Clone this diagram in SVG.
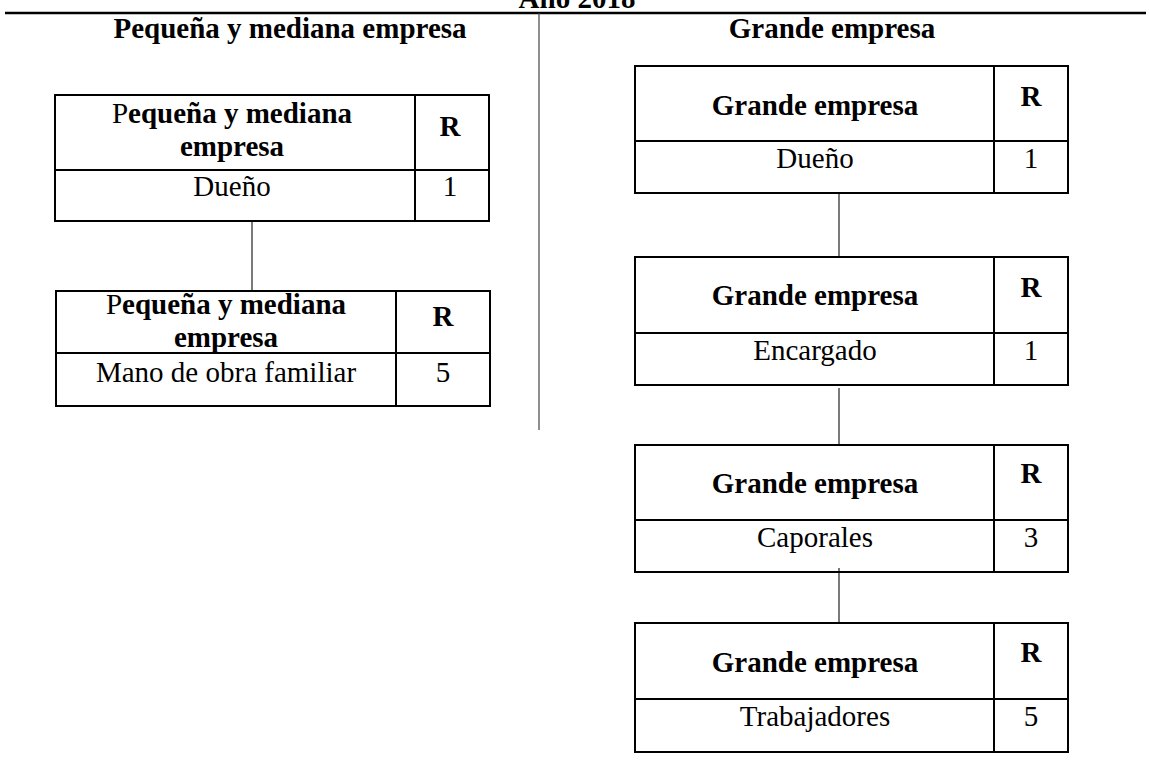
<svg xmlns="http://www.w3.org/2000/svg" width="1149" height="775" viewBox="0 0 1149 775">
<style>
text{font-family:"Liberation Serif","Times New Roman",serif;fill:#000}
.b{font-weight:bold}
.n{font-weight:normal}
.t{font-size:29px;text-anchor:middle}
.h{font-size:29px;font-weight:bold;text-anchor:middle}
.box{fill:none;stroke:#000;stroke-width:2}
.conn{stroke:#333;stroke-width:1.3;fill:none}
</style>
<rect width="1149" height="775" fill="#fff"/>
<g id="header">
<text class="h" x="577" y="8">Año 2018</text>
<line x1="5" y1="13" x2="1146" y2="13" stroke="#000" stroke-width="2.5"/>
<line x1="539" y1="13" x2="539" y2="430" stroke="#444" stroke-width="1.2"/>
<text class="h" x="290" y="38">Pequeña y mediana empresa</text>
<text class="h" x="832" y="38">Grande empresa</text>
</g>
<g id="connectors">
<line class="conn" x1="252" y1="221" x2="252" y2="291"/>
<line class="conn" x1="839" y1="193" x2="839" y2="257"/>
<line class="conn" x1="839" y1="388" x2="839" y2="445"/>
<line class="conn" x1="839" y1="568" x2="839" y2="623"/>
</g>
<g id="pyme-duenio">
<rect class="box" x="55" y="95" width="434" height="126"/>
<line class="box" x1="55" y1="170" x2="489" y2="170"/>
<line class="box" x1="415" y1="95" x2="415" y2="221"/>
<text class="t b" x="232" y="123"><tspan class="n">P</tspan>equeña y mediana</text>
<text class="t b" x="232" y="156">empresa</text>
<text class="t b" x="450" y="136">R</text>
<text class="t" x="232" y="196">Dueño</text>
<text class="t" x="450" y="196">1</text>
</g>
<g id="pyme-familiar">
<rect class="box" x="56" y="291" width="434" height="115"/>
<line class="box" x1="56" y1="353" x2="490" y2="353"/>
<line class="box" x1="396" y1="291" x2="396" y2="406"/>
<text class="t b" x="226" y="314"><tspan class="n">P</tspan>equeña y mediana</text>
<text class="t b" x="226" y="347">empresa</text>
<text class="t b" x="443" y="326">R</text>
<text class="t" x="226" y="382">Mano de obra familiar</text>
<text class="t" x="443" y="382">5</text>
</g>
<g id="ge-duenio">
<rect class="box" x="635" y="66" width="433" height="127"/>
<line class="box" x1="635" y1="141" x2="1068" y2="141"/>
<line class="box" x1="994" y1="66" x2="994" y2="193"/>
<text class="t b" x="815" y="115">Grande empresa</text>
<text class="t b" x="1031" y="106">R</text>
<text class="t" x="815" y="168">Dueño</text>
<text class="t" x="1031" y="168">1</text>
</g>
<g id="ge-encargado">
<rect class="box" x="635" y="257" width="433" height="128"/>
<line class="box" x1="635" y1="333" x2="1068" y2="333"/>
<line class="box" x1="994" y1="257" x2="994" y2="385"/>
<text class="t b" x="815" y="305">Grande empresa</text>
<text class="t b" x="1031" y="297">R</text>
<text class="t" x="815" y="360">Encargado</text>
<text class="t" x="1031" y="360">1</text>
</g>
<g id="ge-caporales">
<rect class="box" x="635" y="445" width="433" height="127"/>
<line class="box" x1="635" y1="520" x2="1068" y2="520"/>
<line class="box" x1="994" y1="445" x2="994" y2="572"/>
<text class="t b" x="815" y="493">Grande empresa</text>
<text class="t b" x="1031" y="483">R</text>
<text class="t" x="815" y="547">Caporales</text>
<text class="t" x="1031" y="547">3</text>
</g>
<g id="ge-trabajadores">
<rect class="box" x="635" y="623" width="433" height="129"/>
<line class="box" x1="635" y1="699" x2="1068" y2="699"/>
<line class="box" x1="994" y1="623" x2="994" y2="752"/>
<text class="t b" x="815" y="672">Grande empresa</text>
<text class="t b" x="1031" y="662">R</text>
<text class="t" x="815" y="726">Trabajadores</text>
<text class="t" x="1031" y="726">5</text>
</g>
</svg>
